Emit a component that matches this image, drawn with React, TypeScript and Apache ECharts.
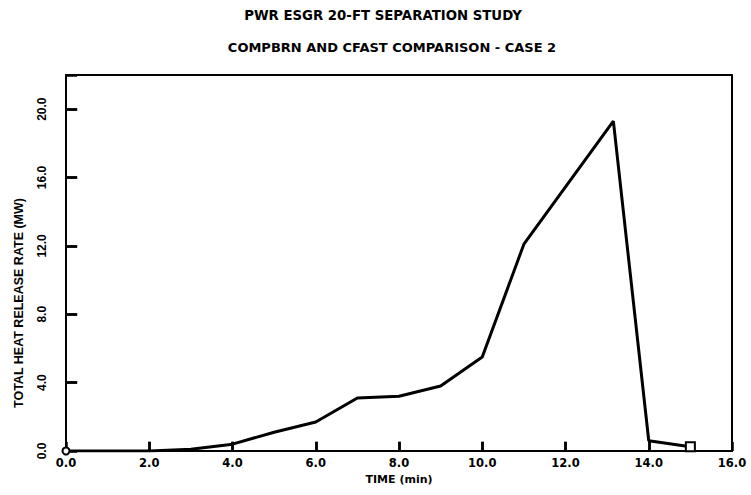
import React, { useEffect, useRef } from "react";
import * as echarts from "echarts";

const timeMin = [0, 1, 2, 3, 4, 5, 6, 7, 8, 9, 10, 11, 13.15, 14, 15];
const heatMW = [0, 0, 0, 0.1, 0.4, 1.1, 1.7, 3.1, 3.2, 3.8, 5.5, 12.1, 19.3, 0.6, 0.25];
const xTickValues = [2, 4, 6, 8, 10, 12, 14];
const yTickValues = [4, 8, 12, 16, 20];
const titleLines = ["PWR ESGR 20-FT SEPARATION STUDY", "COMPBRN AND CFAST COMPARISON - CASE 2"];
const xName = "TIME (min)";
const yName = "TOTAL HEAT RELEASE RATE (MW)";

export default function App() {
  const ref = useRef<HTMLDivElement>(null);
  useEffect(() => {
    if (!ref.current) return;
    const chart = echarts.init(ref.current, null, { renderer: "svg" });
    const narrow = "'Liberation Sans Narrow', 'Liberation Sans', Arial, sans-serif";
    const wide = "'DejaVu Sans', 'Liberation Sans', Arial, sans-serif";
    const data = timeMin.map((t, i) => {
      const last = i === timeMin.length - 1;
      const first = i === 0;
      return {
        value: [t, heatMW[i]],
        symbol: first ? "circle" : last ? "rect" : "none",
        symbolSize: first ? 7 : 9,
      };
    });
    const frameAxis = {
      show: true,
      axisLine: { show: true, onZero: false, lineStyle: { color: "#000", width: 2 } },
      axisTick: { show: false },
      axisLabel: { show: false },
      splitLine: { show: false },
    };
    // tick marks as short mark lines in data units (x tick height 0.55 MW ~ 9px, y tick length 0.27 min ~ 11px)
    const tickMarks: any[] = [];
    xTickValues.forEach((v) => {
      tickMarks.push([{ coord: [v, 0] }, { coord: [v, 0.55] }]);
    });
    yTickValues.forEach((v) => {
      tickMarks.push([{ coord: [0, v] }, { coord: [0.27, v] }]);
    });
    chart.setOption({
      animation: false,
      backgroundColor: "#ffffff",
      graphic: [
        {
          type: "text",
          x: 383,
          y: 15,
          style: {
            text: titleLines[0],
            font: "bold 13.3px " + wide,
            fill: "#000",
            textAlign: "center",
            textVerticalAlign: "middle",
          },
        },
        {
          type: "text",
          x: 392,
          y: 47,
          style: {
            text: titleLines[1],
            font: "bold 13px " + wide,
            fill: "#000",
            textAlign: "center",
            textVerticalAlign: "middle",
          },
        },
        {
          type: "text",
          x: 19,
          y: 303,
          rotation: Math.PI / 2,
          style: {
            text: yName,
            font: "bold 12.5px " + narrow,
            fill: "#000",
            textAlign: "center",
            textVerticalAlign: "middle",
          },
        },
      ],
      grid: {
        left: 66,
        right: 19,
        top: 75,
        bottom: 44,
      },
      xAxis: [
        {
          type: "value",
          position: "bottom",
          min: 0,
          max: 16,
          interval: 2,
          name: xName,
          nameLocation: "middle",
          nameGap: 23,
          nameTextStyle: { fontFamily: wide, fontWeight: "bold", fontSize: 11, color: "#000" },
          axisLine: { show: true, onZero: false, lineStyle: { color: "#000", width: 2 } },
          axisTick: { show: true, inside: true, length: 9, lineStyle: { color: "#000", width: 2.5 } },
          axisLabel: {
            show: true,
            formatter: (v: number) => v.toFixed(1),
            fontFamily: wide,
            fontWeight: "bold",
            fontSize: 11.5,
            color: "#000",
            margin: 6,
          },
          splitLine: { show: false },
        },
        { type: "value", position: "top", min: 0, max: 16, ...frameAxis },
      ],
      yAxis: [
        {
          type: "value",
          position: "left",
          min: 0,
          max: 22,
          interval: 4,
          axisLine: { show: true, onZero: false, lineStyle: { color: "#000", width: 2 } },
          axisTick: { show: true, inside: true, length: 11, lineStyle: { color: "#000", width: 2.5 } },
          axisLabel: {
            show: true,
            formatter: (v: number) => (v > 20 ? "" : v.toFixed(1)),
            rotate: 90,
            fontFamily: narrow,
            fontWeight: "bold",
            fontSize: 12,
            color: "#000",
            margin: 18,
          },
          splitLine: { show: false },
        },
        { type: "value", position: "right", min: 0, max: 22, ...frameAxis },
      ],
      series: [
        {
          type: "line",
          xAxisIndex: 0,
          yAxisIndex: 0,
          data,
          lineStyle: { color: "#000", width: 3 },
          itemStyle: { color: "#fff", borderColor: "#000", borderWidth: 2 },
          showSymbol: true,
          z: 3,
          markLine: {
            silent: true,
            symbol: ["none", "none"],
            label: { show: false },
            lineStyle: { color: "#000", width: 2.5, type: "solid" },
            emphasis: { disabled: true },
            data: tickMarks,
          },
        },
      ],
    });
    return () => chart.dispose();
  }, []);
  return (
    <div
      ref={ref}
      style={{ position: "absolute", left: 0, top: 0, width: 751, height: 495 }}
    />
  );
}
